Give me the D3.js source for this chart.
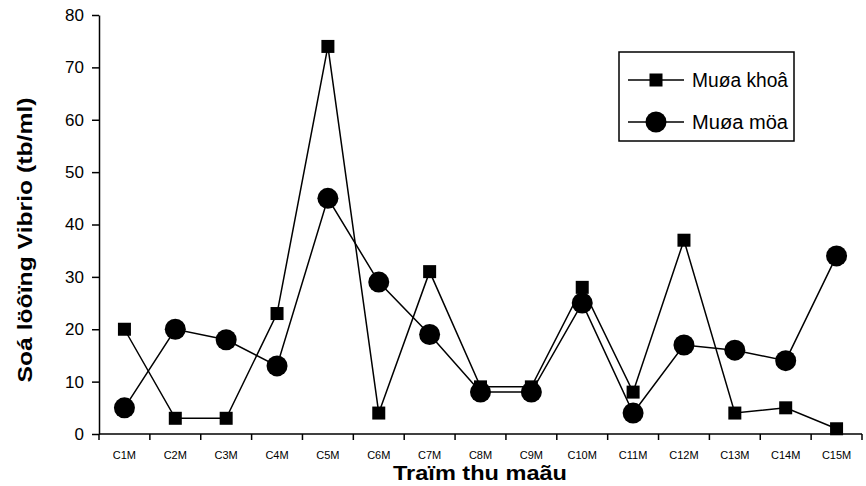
<!DOCTYPE html>
<html>
<head>
<meta charset="utf-8">
<script src="https://cdn.jsdelivr.net/npm/d3@7/dist/d3.min.js"></script>
<style>
  html, body { margin: 0; padding: 0; background: #fff; }
  svg { display: block; }
</style>
</head>
<body>
<script>
// Sampling stations and Vibrio counts per season
const stations = ["C1M","C2M","C3M","C4M","C5M","C6M","C7M","C8M","C9M","C10M","C11M","C12M","C13M","C14M","C15M"];
const dryValues = [20, 3, 3, 23, 74, 4, 31, 9, 9, 28, 8, 37, 4, 5, 1];
const rainValues = [5, 20, 18, 13, 45, 29, 19, 8, 8, 25, 4, 17, 16, 14, 34];
const yTicks = [0, 10, 20, 30, 40, 50, 60, 70, 80];
const seriesNames = ["Muøa khoâ", "Muøa möa"];

const W = 866, H = 486;
const plotLeft = 99, plotRight = 862, plotTop = 15, plotBottom = 434;

const svg = d3.select("body").append("svg").attr("width", W).attr("height", H);

const x = d3.scaleBand().domain(stations).range([plotLeft, plotRight]);
const y = d3.scaleLinear().domain([0, 80]).range([plotBottom, plotTop]);
const cx = d => x(d) + x.bandwidth() / 2;

// y axis
const yAxis = svg.append("g").attr("transform", `translate(${plotLeft},0)`)
  .call(d3.axisLeft(y).tickValues(yTicks).tickSize(7).tickSizeOuter(0).tickPadding(8));
yAxis.select(".domain").attr("stroke", "#000").attr("stroke-width", 1.5);
yAxis.selectAll(".tick line").attr("stroke", "#000").attr("stroke-width", 1.5);
yAxis.selectAll(".tick text").attr("font-family", "Liberation Sans, Arial, sans-serif")
  .attr("font-size", 17).attr("fill", "#000");

// x axis: ticks at category boundaries
const xg = svg.append("g").attr("transform", `translate(0,${plotBottom})`);
xg.append("line").attr("x1", plotLeft).attr("x2", plotRight).attr("y1", 0).attr("y2", 0)
  .attr("stroke", "#000").attr("stroke-width", 1.5);
const bounds = stations.map(s => x(s)).concat([plotRight]);
xg.selectAll("line.tk").data(bounds).enter().append("line").attr("class", "tk")
  .attr("x1", d => d).attr("x2", d => d).attr("y1", 0).attr("y2", 6)
  .attr("stroke", "#000").attr("stroke-width", 1.5);
xg.selectAll("text").data(stations).enter().append("text")
  .attr("x", d => cx(d)).attr("y", 25).attr("text-anchor", "middle")
  .attr("font-family", "Liberation Sans, Arial, sans-serif").attr("font-size", 11)
  .text(d => d);

// series lines
const line = d3.line().x((d, i) => cx(stations[i])).y(d => y(d));
svg.append("path").datum(dryValues).attr("d", line)
  .attr("fill", "none").attr("stroke", "#000").attr("stroke-width", 1.5);
svg.append("path").datum(rainValues).attr("d", line)
  .attr("fill", "none").attr("stroke", "#000").attr("stroke-width", 1.5);

// markers
const sq = 13, rad = 10.5;
svg.selectAll("rect.dry").data(dryValues).enter().append("rect").attr("class", "dry")
  .attr("x", (d, i) => cx(stations[i]) - sq / 2).attr("y", d => y(d) - sq / 2)
  .attr("width", sq).attr("height", sq).attr("fill", "#000");
svg.selectAll("circle.rain").data(rainValues).enter().append("circle").attr("class", "rain")
  .attr("cx", (d, i) => cx(stations[i])).attr("cy", d => y(d)).attr("r", rad)
  .attr("fill", "#000");

// legend
const lg = svg.append("g");
lg.append("rect").attr("x", 619).attr("y", 52).attr("width", 175).attr("height", 89)
  .attr("fill", "#fff").attr("stroke", "#000").attr("stroke-width", 1.5);
const rowY = [80, 122];
seriesNames.forEach((name, i) => {
  const ry = rowY[i];
  lg.append("line").attr("x1", 628).attr("x2", 684).attr("y1", ry).attr("y2", ry)
    .attr("stroke", "#000").attr("stroke-width", 1.5);
  if (i === 0) lg.append("rect").attr("x", 656 - sq / 2).attr("y", ry - sq / 2)
    .attr("width", sq).attr("height", sq).attr("fill", "#000");
  else lg.append("circle").attr("cx", 656).attr("cy", ry).attr("r", rad).attr("fill", "#000");
  lg.append("text").attr("x", 692).attr("y", ry + 7)
    .attr("font-family", "Liberation Sans, Arial, sans-serif").attr("font-size", 20)
    .attr("textLength", 96).attr("lengthAdjust", "spacingAndGlyphs")
    .text(name);
});

// axis titles
const tFont = "Liberation Sans, Arial, sans-serif";
svg.append("text").attr("x", 480).attr("y", 480).attr("text-anchor", "middle")
  .attr("font-family", tFont).attr("font-weight", "bold").attr("font-size", 21)
  .attr("textLength", 174).attr("lengthAdjust", "spacingAndGlyphs")
  .text("Traïm thu maãu");

svg.append("text").attr("transform", "translate(32,240) rotate(-90)")
  .attr("text-anchor", "middle").attr("font-family", tFont)
  .attr("font-weight", "bold").attr("font-size", 21)
  .attr("textLength", 285).attr("lengthAdjust", "spacingAndGlyphs")
  .text("Soá löôïng Vibrio (tb/ml)");
</script>
</body>
</html>
